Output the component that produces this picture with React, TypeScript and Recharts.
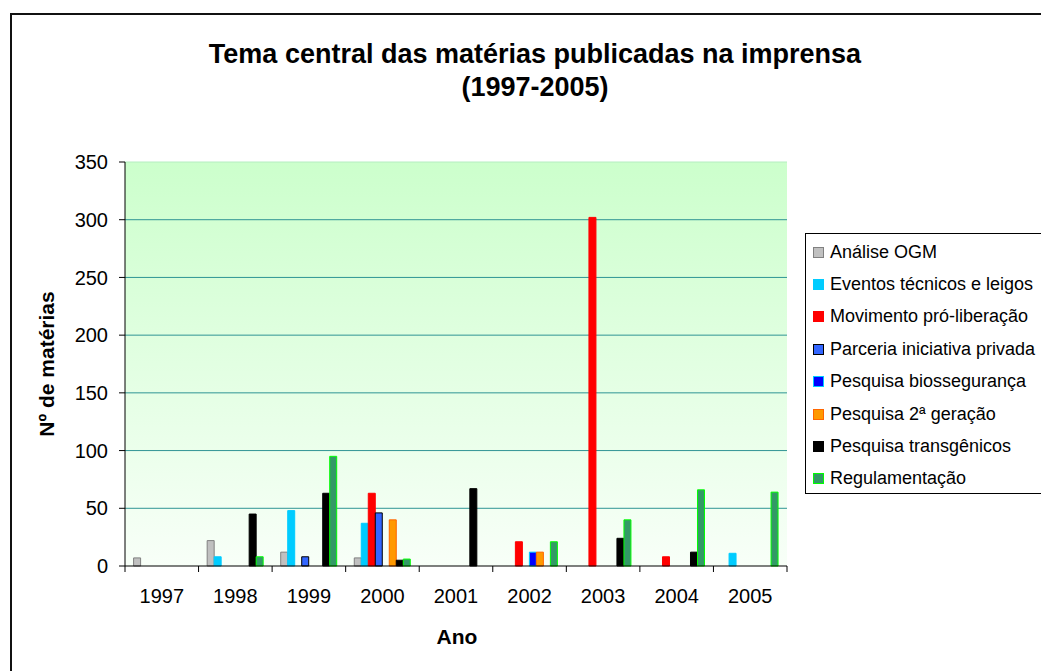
import { Bar, BarChart, CartesianGrid, ReferenceLine, XAxis, YAxis } from 'recharts';

const YEARS = ['1997', '1998', '1999', '2000', '2001', '2002', '2003', '2004', '2005'];
const Y_TICKS = [0, 50, 100, 150, 200, 250, 300, 350];
const GRID_VALUES = [50, 100, 150, 200, 250, 300];

const ANALISE = [7, 22, 12, 7, null, null, null, null, null];
const EVENTOS = [null, 8, 48, 37, null, null, null, null, 11];
const MOVIMENTO = [null, null, null, 63, null, 21, 302, 8, null];
const PARCERIA = [null, null, 8, 46, null, null, null, null, null];
const BIOSSEG = [null, null, null, null, null, 12, null, null, null];
const PESQ_2G = [null, null, null, 40, null, 12, null, null, null];
const TRANSG = [null, 45, 63, 5, 67, null, 24, 12, null];
const REGUL = [null, 8, 95, 6, null, 21, 40, 66, 64];

const SERIES = [
  { key: 'analise', name: 'Análise OGM', values: ANALISE, fill: '#c0c0c0', stroke: '#808080' },
  { key: 'eventos', name: 'Eventos técnicos e leigos', values: EVENTOS, fill: '#00ccff', stroke: '#00ccff' },
  { key: 'movimento', name: 'Movimento pró-liberação', values: MOVIMENTO, fill: '#ff0000', stroke: '#ff0000' },
  { key: 'parceria', name: 'Parceria iniciativa privada', values: PARCERIA, fill: '#3366ff', stroke: '#000000' },
  { key: 'biosseg', name: 'Pesquisa biossegurança', values: BIOSSEG, fill: '#0000ff', stroke: '#00ccff' },
  { key: 'pesq2', name: 'Pesquisa 2ª geração', values: PESQ_2G, fill: '#ff9900', stroke: '#ff6600' },
  { key: 'transg', name: 'Pesquisa transgênicos', values: TRANSG, fill: '#000000', stroke: '#000000' },
  { key: 'regul', name: 'Regulamentação', values: REGUL, fill: '#339966', stroke: '#00ff00' },
];

const FONT = '"Liberation Sans", Arial, sans-serif';
const TICK_SIZE = 6;
const TICK_MARGIN = 17;

const data = YEARS.map((year, i) => {
  const row: Record<string, string | number | null> = { year };
  SERIES.forEach((s) => {
    row[s.key] = s.values[i];
  });
  return row;
});

// year label plus the tick marks on the category boundaries (Excel style)
function YearTick(props: any) {
  const { x, y, payload, index, visibleTicksCount } = props;
  const half = payload.offset ?? 0;
  const axisY = y - TICK_MARGIN - TICK_SIZE;
  const isLast = index === visibleTicksCount - 1;
  return (
    <g>
      <line x1={x - half} x2={x - half} y1={axisY} y2={axisY + TICK_SIZE} stroke="#000" />
      {isLast && <line x1={x + half} x2={x + half} y1={axisY} y2={axisY + TICK_SIZE} stroke="#000" />}
      <text x={x} y={y} dy="0.71em" textAnchor="middle" fill="#000" fontSize={20} fontFamily={FONT}>
        {payload.value}
      </text>
    </g>
  );
}

function ChartLegend() {
  return (
    <div
      style={{
        position: 'absolute',
        left: 805,
        top: 233,
        width: 260,
        height: 261,
        border: '1px solid #000',
        background: '#fff',
        boxSizing: 'border-box',
        paddingTop: 2,
      }}
    >
      {SERIES.map((s) => (
        <div
          key={s.key}
          style={{ display: 'flex', alignItems: 'center', height: 32.4, fontSize: 18, fontFamily: FONT }}
        >
          <span
            style={{
              display: 'inline-block',
              width: 9,
              height: 9,
              marginLeft: 7,
              marginRight: 6,
              background: s.fill,
              border: `1px solid ${s.stroke}`,
            }}
          />
          <span>{s.name}</span>
        </div>
      ))}
    </div>
  );
}

export default function App() {
  return (
    <div style={{ position: 'absolute', left: 0, top: 0, width: 1041, height: 671, overflow: 'hidden', background: '#fff' }}>
      <div
        style={{
          position: 'absolute',
          left: 10,
          top: 13,
          width: 1100,
          height: 700,
          border: '2px solid #111',
          boxSizing: 'border-box',
        }}
      />
      <div
        style={{
          position: 'absolute',
          left: 35,
          top: 38,
          width: 1000,
          textAlign: 'center',
          fontFamily: FONT,
          fontWeight: 'bold',
          fontSize: 27,
          lineHeight: '33px',
        }}
      >
        Tema central das matérias publicadas na imprensa
        <br />
        (1997-2005)
      </div>
      <div style={{ position: 'absolute', left: 0, top: 0 }}>
        <BarChart
          width={1041}
          height={671}
          data={data}
          margin={{ top: 162, right: 254, bottom: 65, left: 55 }}
          barCategoryGap="11.7%"
          barGap={0}
        >
          <defs>
            <linearGradient id="plotBg" x1="0" y1="0" x2="0" y2="1">
              <stop offset="0%" stopColor="#ccffcc" />
              <stop offset="100%" stopColor="#f8fff8" />
            </linearGradient>
          </defs>
          <CartesianGrid
            fill="url(#plotBg)"
            fillOpacity={1}
            vertical={false}
            horizontalValues={GRID_VALUES}
            stroke="#2f9494"
            strokeWidth={1}
          />
          <ReferenceLine y={350} stroke="#b4eec0" strokeWidth={1} />
          <XAxis
            dataKey="year"
            height={40}
            tickLine={false}
            axisLine={{ stroke: '#000' }}
            tickSize={TICK_SIZE}
            tickMargin={TICK_MARGIN}
            tick={<YearTick />}
            interval={0}
          />
          <YAxis
            width={70}
            domain={[0, 350]}
            ticks={Y_TICKS}
            interval={0}
            axisLine={{ stroke: '#000' }}
            tickLine={{ stroke: '#000' }}
            tickSize={6}
            tickMargin={11}
            tick={{ fill: '#000', fontSize: 20, fontFamily: FONT }}
          />
          {SERIES.map((s) => (
            <Bar
              key={s.key}
              dataKey={s.key}
              name={s.name}
              fill={s.fill}
              stroke={s.stroke}
              strokeWidth={1}
              isAnimationActive={false}
            />
          ))}
        </BarChart>
      </div>
      <div
        style={{
          position: 'absolute',
          left: 47,
          top: 364,
          transform: 'translate(-50%, -50%) rotate(-90deg)',
          whiteSpace: 'nowrap',
          fontFamily: FONT,
          fontWeight: 'bold',
          fontSize: 21,
        }}
      >
        Nº de matérias
      </div>
      <div
        style={{
          position: 'absolute',
          left: 457,
          top: 637,
          transform: 'translate(-50%, -50%)',
          fontFamily: FONT,
          fontWeight: 'bold',
          fontSize: 21,
        }}
      >
        Ano
      </div>
      <ChartLegend />
    </div>
  );
}
